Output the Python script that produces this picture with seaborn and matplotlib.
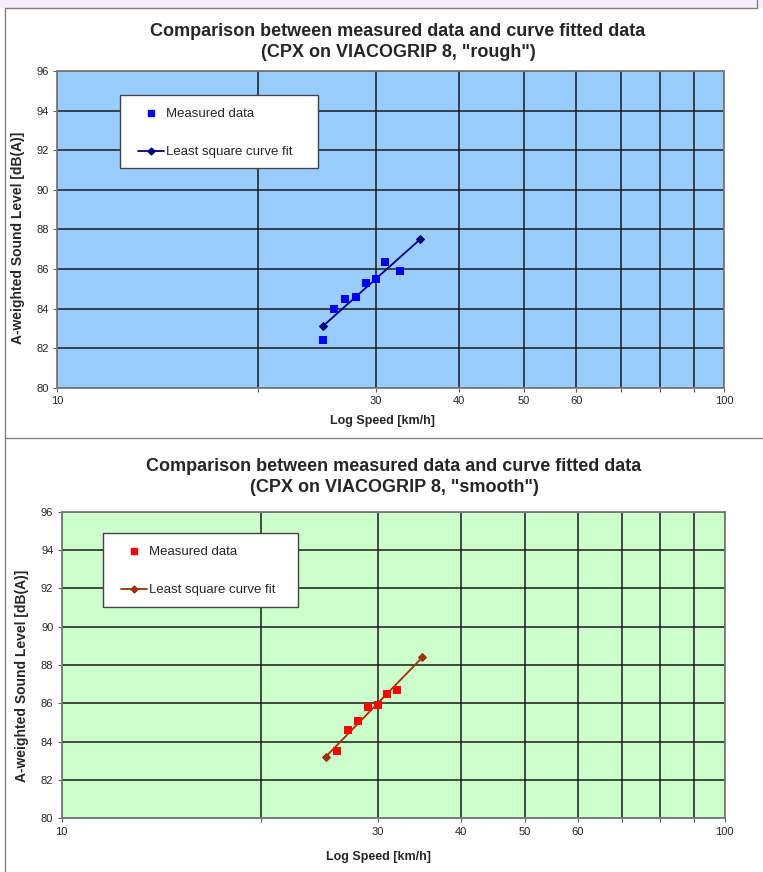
import numpy as np
import pandas as pd
import matplotlib
matplotlib.use("Agg")
import matplotlib.pyplot as plt
from matplotlib.lines import Line2D
from matplotlib.patches import Rectangle
import seaborn as sns

sns.set_theme(style="white")
plt.rcParams["font.family"] = ["Liberation Sans", "DejaVu Sans"]

# Measured CPX levels, "rough" surface
rough_speed = [25, 26, 27, 28, 29, 30, 31, 32.6]
rough_level = [82.4, 84.0, 84.5, 84.6, 85.3, 85.5, 86.35, 85.9]
rough_fit_speed = [25, 35]
rough_fit_level = [83.1, 87.5]

# Measured CPX levels, "smooth" surface
smooth_speed = [26, 27, 28, 29, 30, 31, 32]
smooth_level = [83.5, 84.6, 85.1, 85.8, 85.9, 86.5, 86.7]
smooth_fit_speed = [25, 35]
smooth_fit_level = [83.2, 88.4]

x_ticks = [10, 20, 30, 40, 50, 60, 70, 80, 90, 100]
x_tick_labels = ["10", "", "30", "40", "50", "60", "", "", "", "100"]
y_ticks = [80, 82, 84, 86, 88, 90, 92, 94, 96]

titles = [
    "Comparison between measured data and curve fitted data\n(CPX on VIACOGRIP 8, \"rough\")",
    "Comparison between measured data and curve fitted data\n(CPX on VIACOGRIP 8, \"smooth\")",
]
x_label = "Log Speed [km/h]"
y_label = "A-weighted Sound Level [dB(A)]"
legend_labels = ["Measured data", "Least square curve fit"]

W, H = 763, 872
fig = plt.figure(figsize=(W / 100, H / 100), dpi=100)
fig.patch.set_facecolor("white")


def fx(px):
    return px / W


def fy(py):
    return 1 - py / H


# page frame: lavender strip on top and grey panel borders
fig.patches.append(Rectangle((0, fy(8)), 1, 8 / H, transform=fig.transFigure,
                             facecolor="#F6EEFA", edgecolor="none", zorder=0))
for seg in [([fx(5), fx(5)], [fy(8), 0]),
            ([fx(5), fx(757)], [fy(8), fy(8)]),
            ([fx(757), fx(757)], [fy(0), fy(8)]),
            ([fx(5), 1], [fy(438), fy(438)])]:
    fig.lines.append(Line2D(seg[0], seg[1], transform=fig.transFigure,
                            color="#808080", lw=1.0))

panels = [
    dict(rect=[fx(57.3), fy(387.7), fx(667), 316.7 / H], face="#99CCFF",
         meas=(rough_speed, rough_level), fit=(rough_fit_speed, rough_fit_level),
         mcol="#0000FF", lcol="#000080", title_xy=(398, 42), ylab_xy=(18, 238),
         xlab_y=421, leg=(120, 95, 198, 73)),
    dict(rect=[fx(61.7), fy(818.3), fx(663), 306.6 / H], face="#CCFFCC",
         meas=(smooth_speed, smooth_level), fit=(smooth_fit_speed, smooth_fit_level),
         mcol="#FF0000", lcol="#993300", title_xy=(394, 477), ylab_xy=(22, 676),
         xlab_y=857, leg=(103, 533, 195, 74)),
]

for p, title in zip(panels, titles):
    ax = fig.add_axes(p["rect"])
    ax.set_facecolor(p["face"])
    meas = pd.DataFrame({"speed": p["meas"][0], "level": p["meas"][1]})
    fit = pd.DataFrame({"speed": p["fit"][0], "level": p["fit"][1]})

    sns.lineplot(data=fit, x="speed", y="level", ax=ax, color=p["lcol"],
                 lw=1.3, marker="D", markersize=4.5, markeredgecolor=p["lcol"],
                 zorder=4)
    sns.scatterplot(data=meas, x="speed", y="level", ax=ax, color=p["mcol"],
                    marker="s", s=34, edgecolor=p["mcol"], linewidth=0, zorder=5)

    ax.set_xscale("log")
    ax.set_xlim(10, 100)
    ax.set_ylim(80, 96)
    ax.set_xticks(x_ticks)
    ax.set_xticklabels(x_tick_labels)
    ax.xaxis.set_minor_locator(matplotlib.ticker.NullLocator())
    ax.set_yticks(y_ticks)
    ax.set_yticklabels([str(v) for v in y_ticks])
    ax.tick_params(axis="both", labelsize=8, length=3, width=0.8,
                   color="#606060", direction="out", pad=3,
                   left=True, bottom=True)
    ax.grid(True, which="major", color="#1a1a1a", lw=1.1)
    ax.set_axisbelow(True)
    for side in ["left", "bottom", "top", "right"]:
        ax.spines[side].set_color("#7a7a7a")
        ax.spines[side].set_linewidth(1.3)
        ax.spines[side].set_visible(True)
    ax.set_xlabel("")
    ax.set_ylabel("")

    fig.text(fx(p["title_xy"][0]), fy(p["title_xy"][1]), title, ha="center",
             va="center", fontsize=13, fontweight="bold", linespacing=1.3)
    fig.text(fx(p["ylab_xy"][0]), fy(p["ylab_xy"][1]), y_label, rotation=90,
             ha="center", va="center", fontsize=10, fontweight="bold")
    fig.text(fx(p["title_xy"][0] - 16), fy(p["xlab_y"]), x_label, ha="center",
             va="center", fontsize=9, fontweight="bold")

    # legend box and its entries
    lx, ly, lw_, lh = p["leg"]
    box = Rectangle((fx(lx), fy(ly + lh)), fx(lw_), lh / H,
                    transform=fig.transFigure, facecolor="white",
                    edgecolor="#444444", lw=1.0, zorder=6, clip_on=False)
    ax.add_artist(box)
    handles = [
        Line2D([], [], ls="none", marker="s", color=p["mcol"], markersize=5),
        Line2D([], [], color=p["lcol"], lw=1.3, marker="D", markersize=3.5),
    ]
    leg = ax.legend(handles, legend_labels, loc="upper left",
                    bbox_to_anchor=(fx(lx + 18), fy(ly + 13)),
                    bbox_transform=fig.transFigure,
                    fontsize=9.5, frameon=False,
                    borderpad=0, labelspacing=1.95, handlelength=2.0,
                    handletextpad=0.1, borderaxespad=0)
    leg.set_zorder(7)

fig.savefig("out.png", dpi=100, facecolor="white")
